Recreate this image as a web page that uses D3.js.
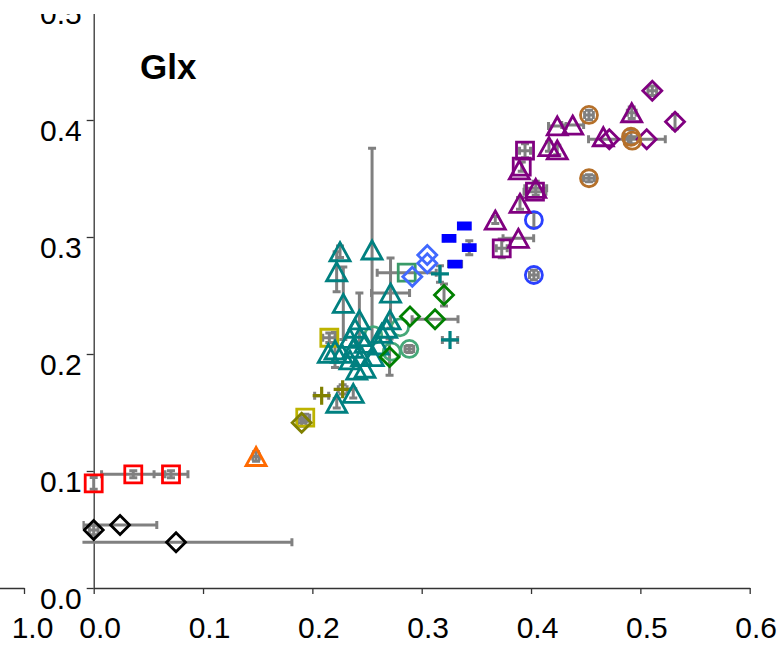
<!DOCTYPE html>
<html>
<head>
<meta charset="utf-8">
<script src="https://cdn.jsdelivr.net/npm/d3@7"></script>
<style>
  html, body { margin: 0; padding: 0; background: #fff; }
  svg { display: block; font-family: "Liberation Sans", Arial, sans-serif; }
  .axis .tick text { font-size: 30px; fill: #000; }
  .axis path, .axis line { stroke: #333; stroke-width: 1.3; }
  .ebar { stroke: #808080; stroke-width: 3; fill: none; }
</style>
</head>
<body>
<svg id="chart" width="782" height="646"></svg>
<script>
// Glx panel: scatter of open markers with grey x/y error bars.
// Every row is [x, y, xerr, yerr] in data units (0 = no bar).

const title = "Glx";
const xTicks = [0, 0.1, 0.2, 0.3, 0.4, 0.5, 0.6];
const yTicks = [0, 0.1, 0.2, 0.3, 0.4, 0.5];
const prevPanelTicks = [1.0]; // last tick of the panel to the left

const blackDiamonds = [
  [0.000, 0.0496, 0.004, 0.004],
  [0.0241, 0.0538, 0.0336, 0],
  [0.0753, 0.0391, 0.106, 0],
];
const redSquares = [
  [0.000, 0.0895, 0, 0.005],
  [0.0362, 0.0972, 0.029, 0.003],
  [0.0707, 0.0972, 0.0155, 0.003],
];
const orangeTriangles = [
  [0.1485, 0.1124, 0.003, 0.004],
];
const yellowSquares = [
  [0.1935, 0.1456, 0.004, 0.003],
  [0.2155, 0.2139, 0.006, 0.004],
];
const oliveDiamonds = [
  [0.1902, 0.1413, 0.004, 0.003],
];
const olivePluses = [
  [0.2085, 0.1644, 0.0064, 0],
  [0.2277, 0.1698, 0.004, 0.004],
];
const seaCircles = [
  [0.2802, 0.2228, 0, 0],
  [0.2887, 0.2043, 0.004, 0.003],
  [0.2557, 0.2162, 0, 0],
  [0.2726, 0.2020, 0, 0],
];
const seaSquares = [
  [0.2863, 0.2695, 0.027, 0],
];
const tealTriangles = [
  [0.2253, 0.2874, 0, 0.005],
  [0.2546, 0.2889, 0, 0.087],
  [0.2222, 0.2703, 0, 0.017],
  [0.2283, 0.2433, 0, 0.031],
  [0.2715, 0.2521, 0.0174, 0.030],
  [0.2430, 0.2291, 0, 0.023],
  [0.2710, 0.2291, 0, 0],
  [0.2390, 0.2220, 0, 0],
  [0.2344, 0.2134, 0, 0],
  [0.2435, 0.2148, 0, 0],
  [0.2634, 0.2177, 0, 0],
  [0.2680, 0.2220, 0, 0],
  [0.2207, 0.2034, 0, 0.015],
  [0.2268, 0.2006, 0, 0],
  [0.2374, 0.2049, 0, 0],
  [0.2481, 0.2091, 0, 0],
  [0.2603, 0.2077, 0, 0],
  [0.2344, 0.1949, 0, 0],
  [0.2451, 0.1977, 0, 0],
  [0.2557, 0.1977, 0, 0],
  [0.2406, 0.1863, 0, 0],
  [0.2481, 0.1878, 0, 0],
  [0.2374, 0.1664, 0, 0.004],
  [0.2223, 0.1579, 0, 0.004],
  [0.2146, 0.2006, 0, 0],
];
const tealPluses = [
  [0.3167, 0.2684, 0, 0.007],
  [0.3259, 0.2120, 0.007, 0],
];
const greenDiamonds = [
  [0.3204, 0.2504, 0, 0.0094],
  [0.2893, 0.2321, 0, 0],
  [0.3122, 0.2297, 0.021, 0],
  [0.2706, 0.1974, 0, 0.0155],
];
const royalDiamonds = [
  [0.3051, 0.2846, 0, 0],
  [0.3051, 0.2775, 0, 0],
  [0.2914, 0.2661, 0, 0],
];
const blueRects = [
  [0.3390, 0.3094, 0.004, 0],
  [0.3250, 0.2989, 0.005, 0],
  [0.3435, 0.2909, 0, 0.006],
  [0.3305, 0.2769, 0.006, 0],
];
const blueCircles = [
  [0.4026, 0.3145, 0, 0.0065],
  [0.4026, 0.2675, 0.004, 0.004],
];
const purpleTriangles = [
  [0.4240, 0.3949, 0.008, 0],
  [0.4381, 0.3957, 0.010, 0],
  [0.4164, 0.3772, 0, 0.004],
  [0.4240, 0.3744, 0, 0.004],
  [0.3893, 0.3573, 0, 0],
  [0.4043, 0.3416, 0.010, 0.006],
  [0.3899, 0.3288, 0, 0.005],
  [0.3673, 0.3145, 0, 0.003],
  [0.3884, 0.2989, 0.014, 0],
  [0.4921, 0.4062, 0.004, 0.005],
  [0.4661, 0.3857, 0, 0],
];
const purpleSquares = [
  [0.3945, 0.3738, 0.005, 0.006],
  [0.3915, 0.3601, 0, 0.004],
  [0.4036, 0.3387, 0.010, 0],
  [0.3732, 0.2903, 0.005, 0.008],
];
const purpleDiamonds = [
  [0.5109, 0.4250, 0.004, 0.004],
  [0.5317, 0.3985, 0, 0.006],
  [0.4716, 0.3835, 0.019, 0],
  [0.5058, 0.3835, 0.017, 0],
];
const brownCircles = [
  [0.4530, 0.4043, 0.004, 0.004],
  [0.4914, 0.3857, 0.006, 0.006],
  [0.4926, 0.3823, 0, 0],
  [0.4530, 0.3502, 0.005, 0.003],
];

// drawing order = stacking order
const series = [
  { rows: blackDiamonds, shape: "diamond", color: "#000000" },
  { rows: redSquares, shape: "square", color: "#ff0000" },
  { rows: orangeTriangles, shape: "triangle", color: "#ff6a00" },
  { rows: yellowSquares, shape: "square", color: "#bdb300" },
  { rows: oliveDiamonds, shape: "diamond", color: "#808000" },
  { rows: olivePluses, shape: "plus", color: "#808000" },
  { rows: seaCircles, shape: "circle", color: "#45a878" },
  { rows: seaSquares, shape: "square", color: "#3a9a68" },
  { rows: tealTriangles, shape: "triangle", color: "#008080" },
  { rows: tealPluses, shape: "plus", color: "#008080" },
  { rows: greenDiamonds, shape: "diamond", color: "#008000" },
  { rows: royalDiamonds, shape: "diamond", color: "#4169ff" },
  { rows: blueRects, shape: "rect", color: "#0000ff" },
  { rows: blueCircles, shape: "circle", color: "#2a40ff" },
  { rows: purpleSquares, shape: "square", color: "#800080" },
  { rows: purpleTriangles, shape: "triangle", color: "#800080" },
  { rows: purpleDiamonds, shape: "diamond", color: "#800080" },
  { rows: brownCircles, shape: "circle", color: "#b5702a" },
];

// marker outlines, centred on (0,0)
const SHAPES = {
  triangle: "M0,-9L10,9L-10,9Z",
  square: "M-8.5,-8.5H8.5V8.5H-8.5Z",
  diamond: "M0,-9.5L9.5,0L0,9.5L-9.5,0Z",
  circle: "M8.5,0A8.5,8.5 0 1,1 -8.5,0A8.5,8.5 0 1,1 8.5,0Z",
  plus: "M-9,0H9M0,-9V9",
  rect: "M-6,-3H6V3H-6Z",
};
const CAP = 4; // half length of an error-bar cap

const svg = d3.select("#chart");
const x = d3.scaleLinear().domain([0, 0.6]).range([93.7, 749.7]);
const y = d3.scaleLinear().domain([0, 0.5]).range([588, 3]);
const xPrev = d3.scaleLinear().domain([0.9, 1.0]).range([24 - 109.3, 24]);

const defs = svg.append("defs");
// the panel is cut out of a larger figure: nothing above y=14
defs.append("clipPath").attr("id", "page").append("rect")
  .attr("x", 0).attr("y", 14).attr("width", 782).attr("height", 646);
defs.append("clipPath").attr("id", "plot").append("rect")
  .attr("x", x(-0.0103)).attr("y", 14).attr("width", 782).attr("height", 646);

const root = svg.append("g").attr("clip-path", "url(#page)");

// --- axes ---
const gx = root.append("g").attr("class", "axis")
  .attr("transform", `translate(0,${y(0)})`)
  .call(d3.axisBottom(x).tickValues(xTicks).tickFormat(d3.format(".1f")).tickSize(6).tickSizeOuter(0));
gx.selectAll(".tick text").attr("y", 50).attr("dy", null).attr("dx", 6);

const gy = root.append("g").attr("class", "axis")
  .attr("transform", `translate(${x(0)},0)`)
  .call(d3.axisLeft(y).tickValues(yTicks).tickFormat(d3.format(".1f")).tickSize(7).tickSizeOuter(0));
gy.selectAll(".tick text").attr("x", -12).attr("y", 20).attr("dy", null);

// right end of the neighbouring panel's x axis
const gp = root.append("g").attr("class", "axis")
  .attr("transform", `translate(0,${y(0)})`)
  .call(d3.axisBottom(xPrev).tickValues(prevPanelTicks).tickFormat(d3.format(".1f")).tickSize(6).tickSizeOuter(0));
gp.selectAll(".tick text").attr("y", 50).attr("dy", null).attr("dx", 8);

root.append("text")
  .attr("x", 140).attr("y", 79)
  .attr("font-size", 35).attr("font-weight", "bold")
  .text(title);

// --- data ---
const plot = root.append("g").attr("clip-path", "url(#plot)");
const gBars = plot.append("g");
const gMarks = plot.append("g");

series.forEach((s) => {
  s.rows.forEach(([xv, yv, xe, ye]) => {
    const cx = x(xv), cy = y(yv);
    if (xe > 0) {
      const x0 = x(xv - xe), x1 = x(xv + xe);
      gBars.append("path").attr("class", "ebar")
        .attr("d", `M${x0},${cy}H${x1}M${x0},${cy - CAP}V${cy + CAP}M${x1},${cy - CAP}V${cy + CAP}`);
    }
    if (ye > 0) {
      const y0 = y(yv - ye), y1 = y(yv + ye);
      gBars.append("path").attr("class", "ebar")
        .attr("d", `M${cx},${y0}V${y1}M${cx - CAP},${y0}H${cx + CAP}M${cx - CAP},${y1}H${cx + CAP}`);
    }
  });

  gMarks.append("g")
    .selectAll("path")
    .data(s.rows)
    .join("path")
    .attr("transform", (d) => `translate(${x(d[0])},${y(d[1])})`)
    .attr("d", SHAPES[s.shape])
    .attr("stroke", s.color)
    .attr("stroke-width", s.shape === "plus" ? 3.2 : 2.8)
    .attr("fill", s.shape === "rect" ? s.color : "none");
});
</script>
</body>
</html>
